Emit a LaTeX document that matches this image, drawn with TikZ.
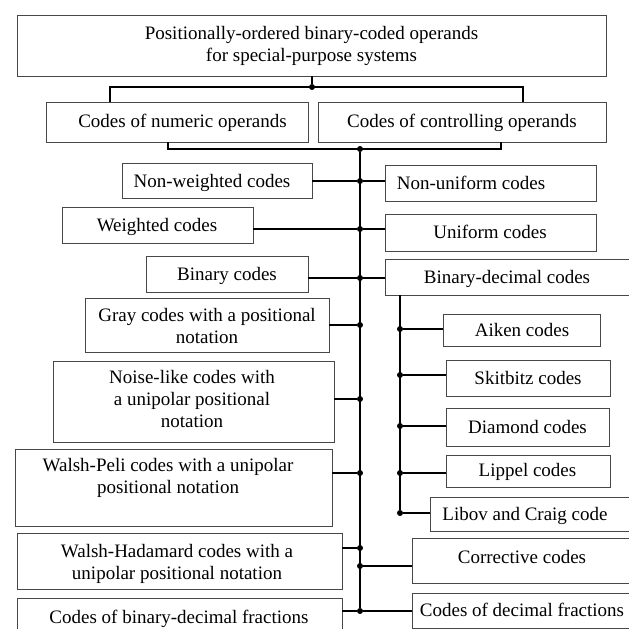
\documentclass[tikz,border=0pt]{standalone}
\usepackage{fontspec}
\setmainfont{Liberation Serif}
\begin{document}
\begin{tikzpicture}[x=1pt,y=-1pt,
  box/.style={draw=black!72, line width=0.9pt, inner sep=0pt, outer sep=0pt},
  txt/.style={inner sep=0pt, align=center, yshift=-2pt, font=\fontsize{19}{22}\selectfont,
    execute at begin node=\strut, execute at end node=\strut},
  conn/.style={line width=1.3pt, black},
  dot/.style={circle, fill=black, inner sep=0pt, minimum size=6pt}]
\useasboundingbox (0,0) rectangle (629,629);
\clip (0,0) rectangle (629,629);
\fill[white] (0,0) rectangle (629,629);
% box macro: name, x1,y1,x2,y2
\newcommand\mkbox[5]{\node[box, minimum width={(#4-#2)*1pt}, minimum height={(#5-#3)*1pt}] (#1) at ({(#2+#4)/2},{(#3+#5)/2}) {};}
\mkbox{top}{17}{15}{606}{76}
\mkbox{num}{46}{102}{308}{142}
\mkbox{ctl}{318}{102}{606}{142}
\mkbox{nw}{122}{163}{312}{198}
\mkbox{nu}{385}{165}{596}{201}
\mkbox{w}{62}{207}{253}{243}
\mkbox{u}{385}{214}{596}{251}
\mkbox{bin}{146}{256}{308}{292}
\mkbox{bd}{385}{259}{645}{295}
\mkbox{gray}{85}{298}{329}{352}
\mkbox{aiken}{443}{314}{600}{346}
\mkbox{noise}{53}{361}{334}{442}
\mkbox{skit}{446}{360}{610}{396}
\mkbox{diam}{446}{408}{609}{446}
\mkbox{wp}{15}{449}{332}{526}
\mkbox{lip}{446}{455}{610}{487}
\mkbox{lib}{430}{497}{645}{531}
\mkbox{wh}{17}{533}{342}{589}
\mkbox{cor}{412}{538}{645}{583}
\mkbox{bdf}{17}{598}{342}{645}
\mkbox{df}{412}{593}{645}{628}
% texts
\node[txt] (top-t) at (311.5,45) {Positionally-ordered binary-coded operands\\for special-purpose systems};
\node[txt] (num-t) at (182.5,121) {Codes of numeric operands};
\node[txt] (ctl-t) at (462,121) {Codes of controlling operands};
\node[txt] (nw-t) at (212,181) {Non-weighted codes};
\node[txt] (nu-t) at (471,183) {Non-uniform codes};
\node[txt] (w-t) at (157,225) {Weighted codes};
\node[txt] (u-t) at (490,232) {Uniform codes};
\node[txt] (bin-t) at (227,274) {Binary codes};
\node[txt] (bd-t) at (507,277) {Binary-decimal codes};
\node[txt] (gray-t) at (207,327.5) {Gray codes with a positional\\notation};
\node[txt] (aiken-t) at (522,330) {Aiken codes};
\node[txt] (noise-t) at (192,400.5) {Noise-like codes with\\a unipolar positional\\notation};
\node[txt] (skit-t) at (528,378) {Skitbitz codes};
\node[txt] (diam-t) at (527.5,427) {Diamond codes};
\node[txt] (wp-t) at (168,477.5) {Walsh-Peli codes with a unipolar\\positional notation};
\node[txt] (lip-t) at (527.5,470) {Lippel codes};
\node[txt] (lib-t) at (525,514) {Libov and Craig code};
\node[txt] (wh-t) at (177,563) {Walsh-Hadamard codes with a\\unipolar positional notation};
\node[txt] (cor-t) at (522,557) {Corrective codes};
\node[txt] (bdf-t) at (179,617) {Codes of binary-decimal fractions};
\node[txt] (df-t) at (522,610) {Codes of decimal fractions};
% junctions
\node[dot] (jtop) at (312,87) {};
\node[dot] (jmain) at (360,149) {};
\node[dot] (j1) at (360,181) {};
\node[dot] (j2) at (360,229) {};
\node[dot] (j3) at (360,278) {};
\node[dot] (j4) at (360,325) {};
\node[dot] (j5) at (360,399) {};
\node[dot] (j6) at (360,473) {};
\node[dot] (j7) at (360,548) {};
\node[dot] (j8) at (360,566) {};
\node[dot] (j9) at (360,611) {};
\node[dot] (s1) at (400,329) {};
\node[dot] (s2) at (400,375) {};
\node[dot] (s3) at (400,426) {};
\node[dot] (s4) at (400,473) {};
\node[dot] (s5) at (400,513) {};
\coordinate (bl) at (110,87);
\coordinate (br) at (523,87);
\coordinate (ll) at (168,149);
\coordinate (lr) at (501,149);
% connectors
\draw[conn] (jtop |- top.south) -- (jtop);
\draw[conn] (num.north -| bl) -- (bl) -- (br) -- (ctl.north -| br);
\draw[conn] (num.south -| ll) -- (ll) -- (lr) -- (ctl.south -| lr);
\draw[conn] (jmain) -- (j9);
\draw[conn] (nw.east |- j1) -- (j1) -- (nu.west |- j1);
\draw[conn] (w.east |- j2) -- (j2) -- (u.west |- j2);
\draw[conn] (bin.east |- j3) -- (j3) -- (bd.west |- j3);
\draw[conn] (gray.east |- j4) -- (j4);
\draw[conn] (noise.east |- j5) -- (j5);
\draw[conn] (wp.east |- j6) -- (j6);
\draw[conn] (wh.east |- j7) -- (j7);
\draw[conn] (j8) -- (cor.west |- j8);
\draw[conn] (bdf.east |- j9) -- (j9) -- (df.west |- j9);
\draw[conn] (bd.south -| s1) -- (s5);
\draw[conn] (s1) -- (aiken.west |- s1);
\draw[conn] (s2) -- (skit.west |- s2);
\draw[conn] (s3) -- (diam.west |- s3);
\draw[conn] (s4) -- (lip.west |- s4);
\draw[conn] (s5) -- (lib.west |- s5);
\end{tikzpicture}
\end{document}
